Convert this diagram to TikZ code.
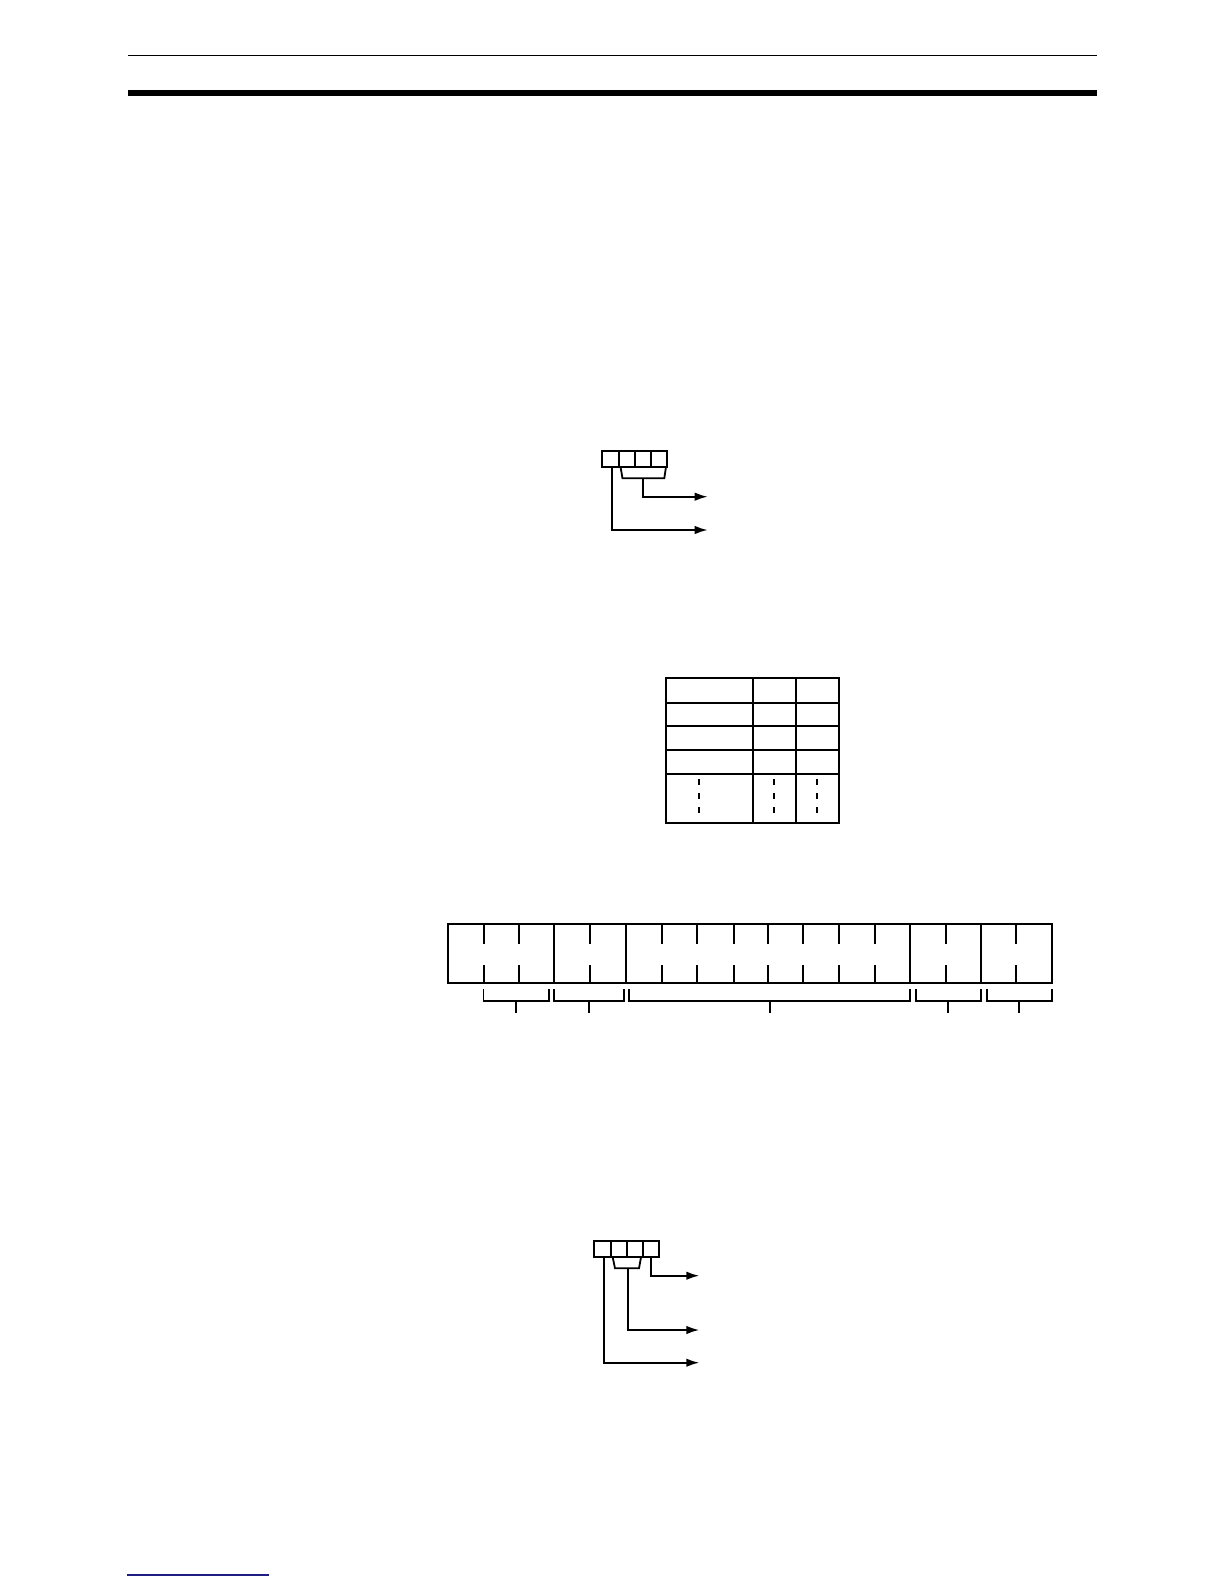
\documentclass[tikz,border=0pt]{standalone}
\usetikzlibrary{arrows.meta}
\definecolor{footblue}{RGB}{30,30,130}
\begin{document}
\begin{tikzpicture}[x=1pt,y=-1pt,
  frame/.style={line width=2pt, line join=miter},
  conn/.style={line width=1.8pt},
  arr/.style={line width=1.8pt, -{Latex[length=13pt,width=8.5pt]}},
  tick/.style={line width=2pt},
  dashcol/.style={line width=2pt, dash pattern=on 6pt off 8pt},
  brk/.style={line width=1.8pt}]
\useasboundingbox (0,0) rectangle (1224,1584);
% page header rules
\draw[line width=1.4pt] (128,55.5) -- (1097,55.5);
\fill (128,90) rectangle (1097,96);
% footer rule
\draw[footblue, line width=1.6pt] (127,1575) -- (269,1575);

% ---------- Diagram 1: 4-digit field with two outputs ----------
\draw[frame] (602.3,450.7) rectangle (666.7,466.7);
\foreach \x in {619,634.5,650.7} \draw[frame] (\x,450.7) -- (\x,466.7);
\draw[brk] (620.5,466.7) -- (622.5,478.3) -- (664.3,478.3) -- (666,466.7);
\coordinate (a1s) at (643.3,478.3);
\coordinate (a1e) at (707.7,496.7);
\coordinate (a2s) at (612.3,466.7);
\coordinate (a2e) at (707.7,530);
\draw[arr] (a1s) |- (a1e);
\draw[arr] (a2s) |- (a2e);

% ---------- Table ----------
\draw[frame] (665.5,678) rectangle (839.3,822.7);
\draw[frame] (752.7,678) -- (752.7,822.7);
\draw[frame] (796,678) -- (796,822.7);
\foreach \y in {702.7,726.3,750.2,774} \draw[frame] (665.5,\y) -- (839.3,\y);
\foreach \x in {699,773.5,817} \draw[dashcol] (\x,779) -- (\x,816);

% ---------- Bit field ----------
\draw[frame] (447.7,924.3) rectangle (1051.7,983.3);
\foreach \x in {554.3,626,910,981} \draw[frame] (\x,924.3) -- (\x,983.3);
\foreach \x in {484.3,519,590,662.3,697.3,733.5,768,803.3,839,875,946,1015.5}{
  \draw[tick] (\x,924.3) -- (\x,944.3);
  \draw[tick] (\x,965) -- (\x,983.3);
}
% brackets below
\foreach \l/\r in {483.5/549,554.3/624,629.3/910,915.7/980.7,986.7/1051.7}{
  \draw[brk] (\l,989.3) -- (\l,1000.7) -- (\r,1000.7) -- (\r,989.3);
  \draw[brk] ({(\l+\r)/2},1000.7) -- ({(\l+\r)/2},1013.3);
}

% ---------- Diagram 3: 4-digit field with three outputs ----------
\draw[frame] (594.3,1240.7) rectangle (659.3,1257.3);
\foreach \x in {610.7,627.3,643.3} \draw[frame] (\x,1240.7) -- (\x,1257.3);
\draw[brk] (612.7,1257.3) -- (615,1268.3) -- (639,1268.3) -- (641,1257.3);
\coordinate (b1s) at (651,1257.3);
\coordinate (b1e) at (699.3,1275.7);
\coordinate (b2s) at (627.7,1268.3);
\coordinate (b2e) at (699.3,1330);
\coordinate (b3s) at (604,1257.3);
\coordinate (b3e) at (699.3,1362.7);
\draw[arr] (b1s) |- (b1e);
\draw[arr] (b2s) |- (b2e);
\draw[arr] (b3s) |- (b3e);
\end{tikzpicture}
\end{document}
